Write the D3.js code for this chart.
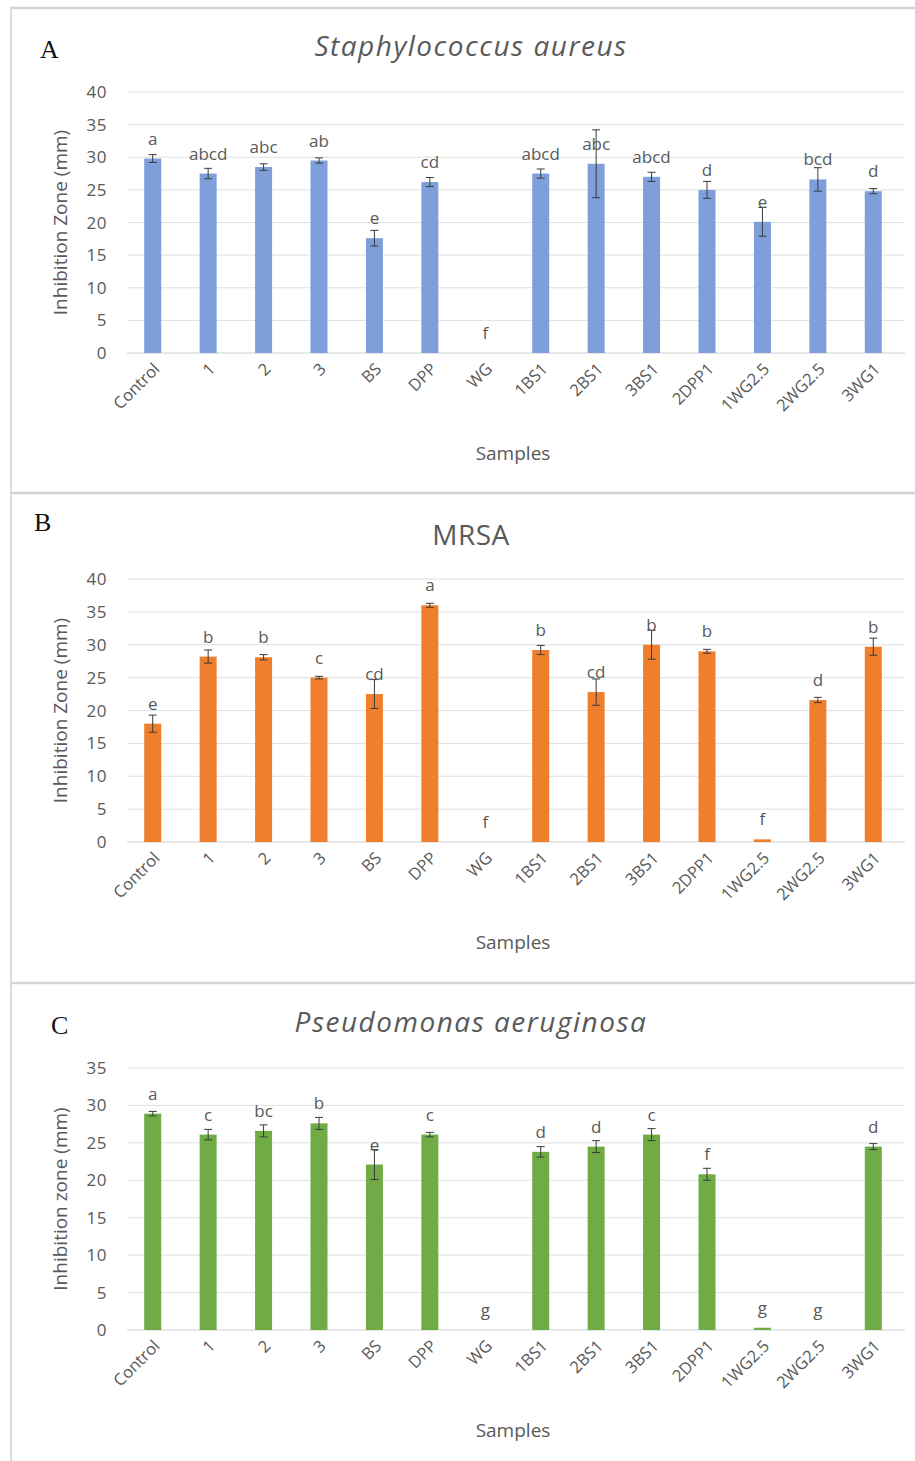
<!DOCTYPE html>
<html>
<head>
    <title>Inhibition zones</title>
    <script src="https://d3js.org/d3.v7.min.js"></script>
    <style>
        html, body { margin: 0; padding: 0; background: #fff; }
        svg { display: block; }
        .tick-label { font-family: "Open Sans", sans-serif; font-size: 17px; fill: #595959; letter-spacing: 0.5px; }
        .cat-label { font-family: "Open Sans", sans-serif; font-size: 16.5px; fill: #595959; }
        .letter { font-family: "Open Sans", sans-serif; font-size: 17px; fill: #595959; }
        .axis-title { font-family: "Open Sans", sans-serif; font-size: 19px; fill: #595959; }
        .x-title { font-family: "Open Sans", sans-serif; font-size: 19px; fill: #595959; }
        .chart-title { font-family: "Open Sans", sans-serif; font-size: 28px; fill: #595959; }
        .panel-letter { font-family: "Liberation Serif", serif; font-size: 26px; fill: #111; }
    </style>
</head>
<body>
<svg id="chart" width="915" height="1461"></svg>
<script>
    // Categories (shared by the three panels)
    const samples = ["Control", "1", "2", "3", "BS", "DPP", "WG", "1BS1", "2BS1", "3BS1", "2DPP1", "1WG2.5", "2WG2.5", "3WG1"];

    // A: Staphylococcus aureus
    const valuesA = [29.8, 27.5, 28.5, 29.5, 17.6, 26.2, 0, 27.5, 29.0, 27.0, 25.0, 20.1, 26.6, 24.8];
    const errorsA = [0.6, 0.8, 0.5, 0.4, 1.2, 0.7, 0, 0.7, 5.2, 0.7, 1.3, 2.2, 1.8, 0.4];
    const lettersA = ["a", "abcd", "abc", "ab", "e", "cd", "f", "abcd", "abc", "abcd", "d", "e", "bcd", "d"];
    const ticksA = [0, 5, 10, 15, 20, 25, 30, 35, 40];

    // B: MRSA
    const valuesB = [18.0, 28.2, 28.1, 25.0, 22.5, 36.0, 0, 29.2, 22.8, 30.0, 29.0, 0.4, 21.6, 29.7];
    const errorsB = [1.3, 1.0, 0.4, 0.2, 2.2, 0.3, 0, 0.7, 2.0, 2.2, 0.3, 0, 0.4, 1.3];
    const lettersB = ["e", "b", "b", "c", "cd", "a", "f", "b", "cd", "b", "b", "f", "d", "b"];
    const ticksB = [0, 5, 10, 15, 20, 25, 30, 35, 40];

    // C: Pseudomonas aeruginosa
    const valuesC = [28.9, 26.1, 26.6, 27.6, 22.1, 26.1, 0, 23.8, 24.5, 26.1, 20.8, 0.3, 0, 24.5];
    const errorsC = [0.3, 0.7, 0.8, 0.8, 2.0, 0.3, 0, 0.7, 0.8, 0.8, 0.8, 0, 0, 0.4];
    const lettersC = ["a", "c", "bc", "b", "e", "c", "g", "d", "d", "c", "f", "g", "g", "d"];
    const ticksC = [0, 5, 10, 15, 20, 25, 30, 35];

    const svg = d3.select("#chart");

    const x = d3.scaleBand()
        .domain(samples)
        .range([125, 901])
        .paddingInner(0);
    const barW = 17;

    function drawPanel(opt) {
        const g = svg.append("g");

        // Panel frame (top and left light grey lines)
        g.append("line")
            .attr("x1", 10).attr("x2", 915)
            .attr("y1", opt.frameTop).attr("y2", opt.frameTop)
            .attr("stroke", "#d4d4d4").attr("stroke-width", 2.5);
        g.append("line")
            .attr("x1", 11).attr("x2", 11)
            .attr("y1", opt.frameTop).attr("y2", opt.frameBottom)
            .attr("stroke", "#dcdcdc").attr("stroke-width", 2);

        const y = d3.scaleLinear()
            .domain([0, d3.max(opt.ticks)])
            .range([opt.y0, opt.yTop]);

        // Gridlines
        g.selectAll(".grid")
            .data(opt.ticks)
            .enter().append("line")
            .attr("x1", 127).attr("x2", 905)
            .attr("y1", d => y(d)).attr("y2", d => y(d))
            .attr("stroke", d => d === 0 ? "#d0d0d0" : "#e0e0e0")
            .attr("stroke-width", 1);

        // Y axis tick labels
        g.selectAll(".ytick")
            .data(opt.ticks)
            .enter().append("text")
            .attr("class", "tick-label")
            .attr("x", 107)
            .attr("y", d => y(d) + 6)
            .attr("text-anchor", "end")
            .text(d => d);

        // Bars
        g.selectAll(".bar")
            .data(samples)
            .enter().append("rect")
            .attr("x", (d, i) => x(d) + x.bandwidth() / 2 - barW / 2)
            .attr("y", (d, i) => y(opt.values[i]))
            .attr("width", barW)
            .attr("height", (d, i) => y(0) - y(opt.values[i]))
            .attr("fill", opt.color);

        // Error bars
        const eb = g.selectAll(".err")
            .data(samples.map((s, i) => ({ s, v: opt.values[i], e: opt.errors[i] })).filter(d => d.e > 0))
            .enter().append("g")
            .attr("stroke", "#3a3a3a")
            .attr("stroke-width", 1);
        eb.append("line")
            .attr("x1", d => x(d.s) + x.bandwidth() / 2)
            .attr("x2", d => x(d.s) + x.bandwidth() / 2)
            .attr("y1", d => y(d.v - d.e))
            .attr("y2", d => y(d.v + d.e));
        eb.append("line")
            .attr("x1", d => x(d.s) + x.bandwidth() / 2 - 4)
            .attr("x2", d => x(d.s) + x.bandwidth() / 2 + 4)
            .attr("y1", d => y(d.v + d.e))
            .attr("y2", d => y(d.v + d.e));
        eb.append("line")
            .attr("x1", d => x(d.s) + x.bandwidth() / 2 - 4)
            .attr("x2", d => x(d.s) + x.bandwidth() / 2 + 4)
            .attr("y1", d => y(d.v - d.e))
            .attr("y2", d => y(d.v - d.e));

        // Letters of significance
        g.selectAll(".letter")
            .data(samples)
            .enter().append("text")
            .attr("class", "letter")
            .attr("x", d => x(d) + x.bandwidth() / 2)
            .attr("y", (d, i) => y(opt.values[i]) - 14)
            .attr("text-anchor", "middle")
            .text((d, i) => opt.letters[i]);

        // Category labels, rotated
        g.selectAll(".cat")
            .data(samples)
            .enter().append("text")
            .attr("class", "cat-label")
            .attr("text-anchor", "end")
            .attr("transform", d => `translate(${x(d) + x.bandwidth() / 2 + 8},${opt.y0 + 17}) rotate(-45)`)
            .text(d => d);

        // Axis titles
        g.append("text")
            .attr("class", "axis-title")
            .attr("text-anchor", "middle")
            .attr("transform", `translate(67,${(opt.y0 + opt.yTop) / 2}) rotate(-90)`)
            .text(opt.yTitle);
        g.append("text")
            .attr("class", "x-title")
            .attr("x", 513)
            .attr("y", opt.y0 + 107)
            .attr("text-anchor", "middle")
            .text("Samples");

        // Chart title and panel letter
        g.append("text")
            .attr("class", "chart-title")
            .attr("x", 471)
            .attr("y", opt.titleY)
            .attr("text-anchor", "middle")
            .style("font-style", opt.italic ? "italic" : "normal")
            .style("letter-spacing", opt.italic ? "1.5px" : "0.5px")
            .text(opt.title);
        g.append("text")
            .attr("class", "panel-letter")
            .attr("x", opt.letterX)
            .attr("y", opt.letterY)
            .text(opt.letter);
    }

    drawPanel({
        frameTop: 8, frameBottom: 493, y0: 353, yTop: 92, ticks: ticksA,
        values: valuesA, errors: errorsA, letters: lettersA, color: "#7f9fdb",
        yTitle: "Inhibition Zone (mm)", title: "Staphylococcus aureus", italic: true,
        titleY: 56, letter: "A", letterX: 40, letterY: 58
    });
    drawPanel({
        frameTop: 493, frameBottom: 983, y0: 842, yTop: 579, ticks: ticksB,
        values: valuesB, errors: errorsB, letters: lettersB, color: "#f07f2d",
        yTitle: "Inhibition Zone (mm)", title: "MRSA", italic: false,
        titleY: 545, letter: "B", letterX: 34, letterY: 531
    });
    drawPanel({
        frameTop: 983, frameBottom: 1461, y0: 1330, yTop: 1068, ticks: ticksC,
        values: valuesC, errors: errorsC, letters: lettersC, color: "#6fac46",
        yTitle: "Inhibition zone (mm)", title: "Pseudomonas aeruginosa", italic: true,
        titleY: 1032, letter: "C", letterX: 51, letterY: 1034
    });
</script>
</body>
</html>
